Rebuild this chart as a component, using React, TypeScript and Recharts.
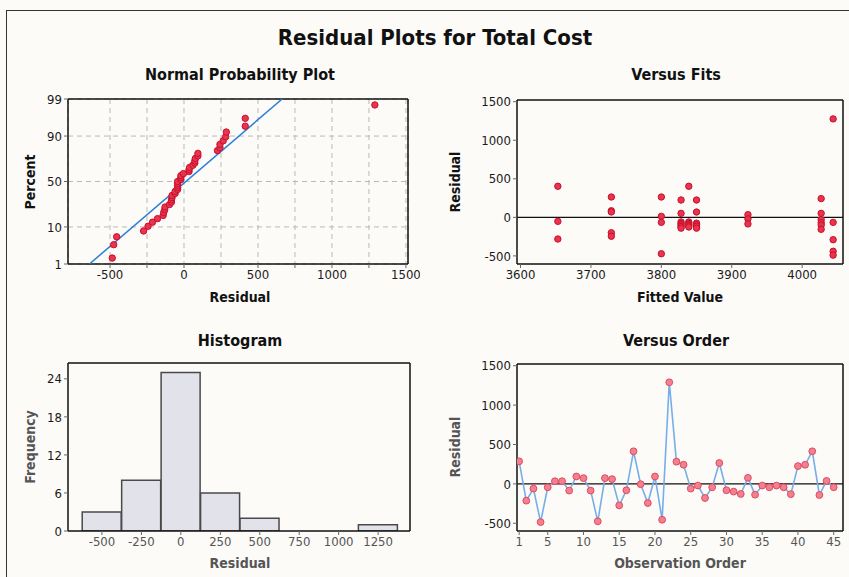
import React from 'react';
import {
  ScatterChart,
  Scatter,
  LineChart,
  Line,
  BarChart,
  Bar,
  XAxis,
  YAxis,
  CartesianGrid,
  ReferenceLine,
} from 'recharts';

// residuals in observation order (read from "Versus Order")
const OBS_RESIDUALS = [
  286, -213, -60, -485, -43, 34, 34, -85, 94, 73, -85, -475, 73, 60, -273, -81, 414, -4, -243, 94,
  -455, 1290, 282, 243, -60, -21, -179, -43, 265, -81, -98, -128, 77, -137, -21, -43, -21, -43, -130,
  226, 243, 414, -141, 38, -43,
];
const ORDER_TICKS = [1, 5, 10, 15, 20, 25, 30, 35, 40, 45];

// versus fits
const FIT_VALUES = [
  3653, 3653, 3653,
  3729, 3729, 3729, 3729, 3729,
  3800, 3800, 3800, 3800,
  3828, 3828, 3828, 3828, 3828, 3828, 3828,
  3839, 3839, 3839, 3839, 3839, 3839,
  3850, 3850, 3850, 3850, 3850, 3850,
  3923, 3923, 3923,
  4027, 4027, 4027, 4027, 4027, 4027,
  4044, 4044, 4044, 4044, 4044,
];
const FIT_RESIDUALS = [
  403, -52, -281,
  264, 85, 70, -200, -245,
  264, 13, -65, -472,
  225, 52, -60, -80, -100, -120, -140,
  403, -60, -80, -95, -110, -125,
  225, 69, -75, -95, -115, -140,
  35, -20, -85,
  243, 52, -30, -70, -100, -155,
  1277, -65, -290, -440, -490,
];
const FIT_TICKS = [3600, 3700, 3800, 3900, 4000];
const RESID_TICKS = [-500, 0, 500, 1000, 1500];

// histogram
const HIST_MIDS = [-500, -250, 0, 250, 500, 750, 1000, 1250];
const HIST_COUNTS = [3, 8, 25, 6, 2, 0, 0, 1];
const FREQ_TICKS = [0, 6, 12, 18, 24];

// normal probability plot
const PERCENT_TICKS = [1, 10, 50, 90, 99];
const NPP_X_TICKS = [-500, -250, 0, 250, 500, 750, 1000, 1250, 1500];

// axis ranges (Minitab style, a bit wider than the data)
const NPP_X_DOMAIN = [-784, 1514];
const FITS_X_DOMAIN = [3595, 4058];
const FITS_Y_DOMAIN = [-605, 1522];
const HIST_X_DOMAIN = [-715, 1452];
const HIST_Y_DOMAIN = [0, 26.5];
const ORDER_X_DOMAIN = [0.7, 46.3];
const ORDER_Y_DOMAIN = [-598, 1522];

const FONT = '"DejaVu Sans Condensed", "DejaVu Sans", sans-serif';
const RED = '#e8344c';
const RED_EDGE = '#c8102e';

// inverse standard normal cdf (Acklam)
function invNorm(p: number): number {
  const a = [-39.69683028665376, 220.9460984245205, -275.9285104469687, 138.357751867269, -30.66479806614716, 2.506628277459239];
  const b = [-54.47609879822406, 161.5858368580409, -155.6989798598866, 66.80131188771972, -13.28068155288572];
  const c = [-0.007784894002430293, -0.3223964580411365, -2.400758277161838, -2.549732539343734, 4.374664141464968, 2.938163982698783];
  const d = [0.007784695709041462, 0.3224671290700398, 2.445134137142996, 3.754408661907416];
  const pl = 0.02425;
  if (p < pl) {
    const q = Math.sqrt(-2 * Math.log(p));
    return (((((c[0] * q + c[1]) * q + c[2]) * q + c[3]) * q + c[4]) * q + c[5]) / ((((d[0] * q + d[1]) * q + d[2]) * q + d[3]) * q + 1);
  }
  if (p > 1 - pl) {
    const q = Math.sqrt(-2 * Math.log(1 - p));
    return -(((((c[0] * q + c[1]) * q + c[2]) * q + c[3]) * q + c[4]) * q + c[5]) / ((((d[0] * q + d[1]) * q + d[2]) * q + d[3]) * q + 1);
  }
  const q = p - 0.5;
  const r = q * q;
  return ((((((a[0] * r + a[1]) * r + a[2]) * r + a[3]) * r + a[4]) * r + a[5]) * q) / (((((b[0] * r + b[1]) * r + b[2]) * r + b[3]) * r + b[4]) * r + 1);
}

const Z_TICKS = PERCENT_TICKS.map((p) => invNorm(p / 100));
const Z_DOMAIN = [Z_TICKS[0], Z_TICKS[Z_TICKS.length - 1]];

const n = OBS_RESIDUALS.length;
const sorted = [...OBS_RESIDUALS].sort((x, y) => x - y);
const nppData = sorted.map((r, i) => ({ x: r, z: invNorm((i + 1 - 0.3) / (n + 0.4)) }));
const mean = OBS_RESIDUALS.reduce((s, v) => s + v, 0) / n;
const sd = Math.sqrt(OBS_RESIDUALS.reduce((s, v) => s + (v - mean) ** 2, 0) / (n - 1));
const fitLine = Z_DOMAIN.map((z) => ({ x: mean + z * sd, z }));

const fitsData = FIT_VALUES.map((f, i) => ({ fit: f, res: FIT_RESIDUALS[i] }));
const orderData = OBS_RESIDUALS.map((r, i) => ({ obs: i + 1, res: r }));
const histData = HIST_MIDS.map((m, i) => ({ mid: m, count: HIST_COUNTS[i] }));

const tickStyle = { fill: '#1a1a1a', fontSize: 13, fontFamily: FONT };
const fadedTick = { fill: '#555', fontSize: 13, fontFamily: FONT };
const axisLine = { stroke: '#111', strokeWidth: 1.5 };

const Dot = (props: any) => (
  <circle cx={props.cx} cy={props.cy} r={3.2} fill={RED} stroke={RED_EDGE} strokeWidth={1} />
);
const NoDot = () => <g />;

// closes the plot box on the top and right side
const frame = (xDomain: number[], yDomain: number[]) => [
  <ReferenceLine key="fr-top" y={yDomain[1]} stroke="#111" strokeWidth={1.5} />,
  <ReferenceLine key="fr-right" x={xDomain[1]} stroke="#111" strokeWidth={1.5} />,
];

const Text = ({ x, y, size, children, color = '#111', rotate = false }: any) => (
  <div
    style={{
      position: 'absolute',
      left: x,
      top: y,
      transform: `translate(-50%, -50%)${rotate ? ' rotate(-90deg)' : ''}`,
      fontFamily: FONT,
      fontWeight: 'bold',
      fontSize: size,
      color,
      whiteSpace: 'nowrap',
    }}
  >
    {children}
  </div>
);

export default function App() {
  return (
    <div
      style={{
        position: 'absolute',
        left: 0,
        top: 0,
        width: 849,
        height: 577,
        overflow: 'hidden',
        background: '#fcfbf8',
      }}
    >
      <div style={{ position: 'absolute', left: 6, top: 10, width: 900, height: 600, borderLeft: '1.5px solid #333', borderTop: '1.5px solid #333' }} />

      <Text x={435} y={37} size={22}>Residual Plots for Total Cost</Text>
      <Text x={240} y={74} size={16}>Normal Probability Plot</Text>
      <Text x={676} y={74} size={16}>Versus Fits</Text>
      <Text x={240} y={340} size={16}>Histogram</Text>
      <Text x={676} y={340} size={16}>Versus Order</Text>

      <Text x={240} y={297} size={14}>Residual</Text>
      <Text x={680} y={297} size={14}>Fitted Value</Text>
      <Text x={240} y={563} size={14} color="#555">Residual</Text>
      <Text x={680} y={563} size={14} color="#555">Observation Order</Text>
      <Text x={30} y={182} size={14} rotate>Percent</Text>
      <Text x={455} y={182} size={14} rotate>Residual</Text>
      <Text x={30} y={447} size={14} rotate color="#555">Frequency</Text>
      <Text x={455} y={447} size={14} rotate color="#555">Residual</Text>

      {/* Normal probability plot */}
      <div style={{ position: 'absolute', left: 0, top: 80 }}>
        <ScatterChart width={420} height={230} margin={{ top: 19, right: 12, left: 0, bottom: 0 }}>
          <CartesianGrid stroke="#b9b9b9" strokeDasharray="5 4" />
          <XAxis
            type="number"
            dataKey="x"
            domain={NPP_X_DOMAIN}
            allowDataOverflow
            ticks={NPP_X_TICKS}
            tickFormatter={(v: number) => (v % 500 === 0 ? String(v) : '')}
            height={46}
            tickSize={4}
            tick={tickStyle}
            axisLine={axisLine}
          />
          <YAxis
            type="number"
            dataKey="z"
            domain={Z_DOMAIN}
            allowDataOverflow
            ticks={Z_TICKS}
            tickFormatter={(v: number) => String(PERCENT_TICKS[Z_TICKS.indexOf(v)])}
            width={68}
            tickSize={4}
            tick={tickStyle}
            axisLine={axisLine}
          />
          {frame(NPP_X_DOMAIN, Z_DOMAIN)}
          <Scatter data={fitLine} line={{ stroke: '#2a7fd6', strokeWidth: 1.5 }} shape={NoDot} isAnimationActive={false} />
          <Scatter data={nppData} shape={Dot} isAnimationActive={false} />
        </ScatterChart>
      </div>

      {/* Versus fits */}
      <div style={{ position: 'absolute', left: 420, top: 80 }}>
        <ScatterChart width={429} height={230} margin={{ top: 20, right: 6, left: 0, bottom: 0 }}>
          <XAxis
            type="number"
            dataKey="fit"
            domain={FITS_X_DOMAIN}
            allowDataOverflow
            ticks={FIT_TICKS}
            height={46}
            tickSize={4}
            tick={tickStyle}
            axisLine={axisLine}
          />
          <YAxis
            type="number"
            dataKey="res"
            domain={FITS_Y_DOMAIN}
            allowDataOverflow
            ticks={RESID_TICKS}
            width={97}
            tickSize={4}
            tick={tickStyle}
            axisLine={axisLine}
          />
          {frame(FITS_X_DOMAIN, FITS_Y_DOMAIN)}
          <ReferenceLine y={0} stroke="#111" strokeWidth={1.2} />
          <Scatter data={fitsData} shape={Dot} isAnimationActive={false} />
        </ScatterChart>
      </div>

      {/* Histogram */}
      <div style={{ position: 'absolute', left: 0, top: 343 }}>
        <BarChart width={420} height={230} data={histData} margin={{ top: 20, right: 10, left: 0, bottom: 0 }} barCategoryGap={0}>
          <XAxis
            type="number"
            dataKey="mid"
            domain={HIST_X_DOMAIN}
            allowDataOverflow
            ticks={HIST_MIDS}
            height={42}
            tickSize={4}
            tick={fadedTick}
            axisLine={axisLine}
          />
          <YAxis
            type="number"
            domain={HIST_Y_DOMAIN}
            allowDataOverflow
            ticks={FREQ_TICKS}
            width={68}
            tickSize={4}
            tick={tickStyle}
            axisLine={axisLine}
          />
          {frame(HIST_X_DOMAIN, HIST_Y_DOMAIN)}
          <Bar dataKey="count" fill="#e2e3ea" stroke="#4a4a4a" strokeWidth={1.5} isAnimationActive={false} />
        </BarChart>
      </div>

      {/* Versus order */}
      <div style={{ position: 'absolute', left: 420, top: 343 }}>
        <LineChart width={429} height={230} data={orderData} margin={{ top: 21, right: 6, left: 0, bottom: 0 }}>
          <XAxis
            type="number"
            dataKey="obs"
            domain={ORDER_X_DOMAIN}
            allowDataOverflow
            ticks={ORDER_TICKS}
            height={42}
            tickSize={4}
            tick={fadedTick}
            axisLine={axisLine}
          />
          <YAxis
            type="number"
            domain={ORDER_Y_DOMAIN}
            allowDataOverflow
            ticks={RESID_TICKS}
            width={97}
            tickSize={4}
            tick={tickStyle}
            axisLine={axisLine}
          />
          {frame(ORDER_X_DOMAIN, ORDER_Y_DOMAIN)}
          <ReferenceLine y={0} stroke="#111" strokeWidth={1.2} />
          <Line
            dataKey="res"
            stroke="#76aeea"
            strokeWidth={1.6}
            dot={(p: any) => <circle key={p.index} cx={p.cx} cy={p.cy} r={3.4} fill="#f2808f" stroke="#e04a60" strokeWidth={1} />}
            isAnimationActive={false}
          />
        </LineChart>
      </div>
    </div>
  );
}
